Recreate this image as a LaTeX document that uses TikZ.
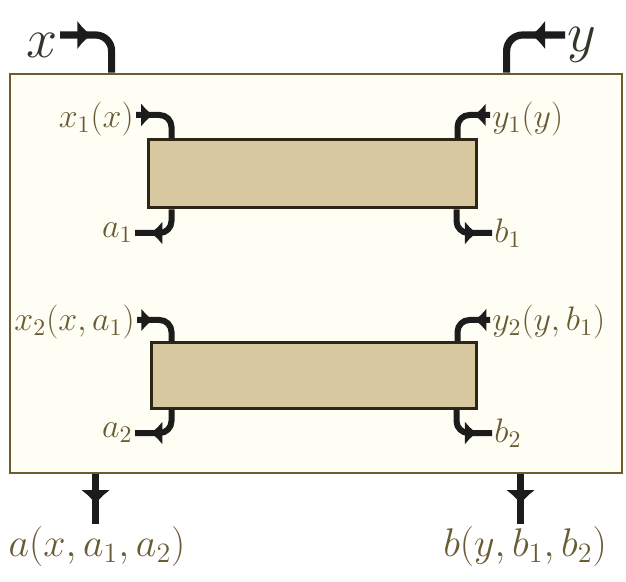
\RequirePackage{fix-cm}
\documentclass[tikz,border=0pt]{standalone}
\usetikzlibrary{arrows.meta,positioning,calc,decorations.markings}
\definecolor{boxLine}{RGB}{110,92,45}
\definecolor{boxFill}{RGB}{255,254,245}
\definecolor{blkFill}{RGB}{216,200,160}
\definecolor{blkLine}{RGB}{45,38,22}
\definecolor{lblText}{RGB}{105,92,52}
\definecolor{topText}{RGB}{55,52,40}
\definecolor{arrowInk}{RGB}{28,28,28}
\tikzset{
  flow/.style={line width=3pt, draw=arrowInk, rounded corners=6pt,
    >={Latex[length=6pt,width=12pt]},
    postaction={decorate},
    decoration={markings,
      mark=at position #1 with {\arrow[arrowInk]{>}}}},
  flow/.default=0.5,
  thick flow/.style={line width=3.6pt, rounded corners=8pt,
    >={Latex[length=7pt,width=15pt]}}
}

\begin{document}
\begin{tikzpicture}[x=0.5pt, y=-0.5pt,
    outer/.style={draw=boxLine, fill=boxFill, line width=1.4pt,
      minimum width=306pt, minimum height=199.5pt, inner sep=0pt},
    blk/.style={draw=blkLine, fill=blkFill, line width=1.5pt, inner sep=0pt},
    toplbl/.style={text=topText, font=\fontsize{28}{30}\selectfont, inner sep=1pt},
    lbl/.style={text=lblText, font=\fontsize{17}{20}\selectfont, inner sep=1pt},
    botlbl/.style={text=lblText, font=\fontsize{20}{24}\selectfont, inner sep=1pt}]
  \useasboundingbox (0,0) rectangle (626,582);

  % system box and its two blocks
  \node[outer] (sys) at (316,273.5) {};
  \node[blk, minimum width=164pt, minimum height=34pt] (blk1) at (312,174) {};
  \node[blk, minimum width=162.5pt, minimum height=32.5pt] (blk2) at (313.5,375.5) {};

  % ports
  \coordinate (px) at ($(sys.north west)+(103,0)$);
  \coordinate (py) at ($(sys.north west)+(498,0)$);
  \coordinate (pa) at ($(sys.south west)+(87,0)$);
  \coordinate (pb) at ($(sys.south west)+(512,0)$);
  \coordinate (px1) at ($(blk1.north west)+(25,0)$);
  \coordinate (py1) at ($(blk1.north east)+(-20,0)$);
  \coordinate (pa1) at ($(blk1.south west)+(25,0)$);
  \coordinate (pb1) at ($(blk1.south east)+(-21,0)$);
  \coordinate (px2) at ($(blk2.north west)+(22,0)$);
  \coordinate (py2) at ($(blk2.north east)+(-20,0)$);
  \coordinate (pa2) at ($(blk2.south west)+(22,0)$);
  \coordinate (pb2) at ($(blk2.south east)+(-21,0)$);

  % outer inputs
  \node[toplbl, anchor=east] (lx) at (60,45) {$x$};
  \node[toplbl, anchor=west] (ly) at (565,45) {$y$};
  \draw[flow=0.38, thick flow] ([yshift=5pt]lx.east) -| (px);
  \draw[flow=0.38, thick flow] ([yshift=5pt]ly.west) -| (py);

  % first block
  \node[lbl, anchor=east] (lx1) at (136,119) {$x_1(x)$};
  \node[lbl, anchor=west] (ly1) at (490,119) {$y_1(y)$};
  \node[lbl, anchor=east] (la1) at (135,233) {$a_1$};
  \node[lbl, anchor=west] (lb1) at (492,233) {$b_1$};
  \draw[flow=0.32] ([yshift=2pt]lx1.east) -| (px1);
  \draw[flow=0.32] ([yshift=2pt]ly1.west) -| (py1);
  \draw[flow=0.72] (pa1) |- (la1.east);
  \draw[flow=0.72] (pb1) |- (lb1.west);

  % second block
  \node[lbl, anchor=east] (lx2) at (137,322) {$x_2(x,a_1)$};
  \node[lbl, anchor=west] (ly2) at (490,322) {$y_2(y,b_1)$};
  \node[lbl, anchor=east] (la2) at (135,433) {$a_2$};
  \node[lbl, anchor=west] (lb2) at (492,433) {$b_2$};
  \draw[flow=0.32] ([yshift=1pt]lx2.east) -| (px2);
  \draw[flow=0.32] ([yshift=1pt]ly2.west) -| (py2);
  \draw[flow=0.72] (pa2) |- (la2.east);
  \draw[flow=0.72] (pb2) |- (lb2.west);

  % outer outputs
  \node[botlbl, anchor=north] (la) at (97,524) {$a(x,a_1,a_2)$};
  \node[botlbl, anchor=north] (lb) at (525,524) {$b(y,b_1,b_2)$};
  \draw[flow=0.6, thick flow] (pa) -- (pa |- la.north);
  \draw[flow=0.6, thick flow] (pb) -- (pb |- lb.north);
\end{tikzpicture}
\end{document}
